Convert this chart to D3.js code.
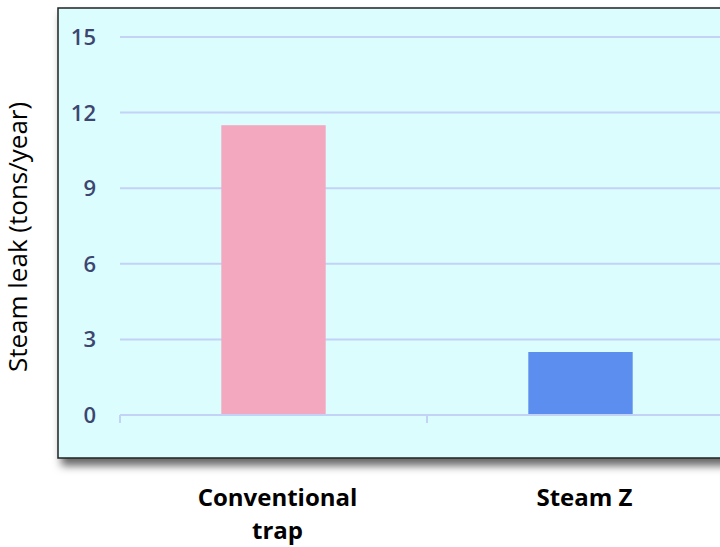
<!DOCTYPE html>
<html>
<head>
<meta charset="utf-8">
<script src="https://cdn.jsdelivr.net/npm/d3@7"></script>
<style>
  body { margin: 0; background: #fff; }
  svg { display: block; }
</style>
</head>
<body>
<div id="container"></div>
<script>
// Data
const categories = ["Conventional trap", "Steam Z"];
const categoryLines = [["Conventional", "trap"], ["Steam Z"]];
const leakValues = [11.5, 2.5];
const barColors = ["#f4a8bf", "#5b8eee"];
const yTicks = [0, 3, 6, 9, 12, 15];

const W = 720, H = 547;
const svg = d3.select("#container").append("svg")
    .attr("width", W)
    .attr("height", H);

// drop shadow for the panel
const defs = svg.append("defs");
const f = defs.append("filter").attr("id", "shadow")
    .attr("x", "-10%").attr("y", "-10%").attr("width", "130%").attr("height", "130%");
f.append("feDropShadow")
    .attr("dx", 4).attr("dy", 7)
    .attr("stdDeviation", 4)
    .attr("flood-color", "#000")
    .attr("flood-opacity", 0.6);

// panel
svg.append("rect")
    .attr("x", 58).attr("y", 8)
    .attr("width", 700).attr("height", 450)
    .attr("fill", "#dcfdfe")
    .attr("stroke", "#222")
    .attr("stroke-width", 1.5)
    .attr("filter", "url(#shadow)");

// scales
const x = d3.scaleBand().domain(categories).range([120, 734]).padding(0);
const y = d3.scaleLinear().domain([0, 15]).range([415, 37]);

// gridlines
svg.append("g").selectAll("line")
    .data(yTicks.filter(d => d > 0))
    .enter().append("line")
    .attr("x1", 120).attr("x2", 734)
    .attr("y1", d => y(d)).attr("y2", d => y(d))
    .attr("stroke", "#c3d2f7")
    .attr("stroke-width", 2);

// y tick labels
svg.append("g").selectAll("text")
    .data(yTicks)
    .enter().append("text")
    .attr("x", 96)
    .attr("y", d => y(d))
    .attr("dy", "0.36em")
    .attr("text-anchor", "end")
    .style("font-family", "'Open Sans', sans-serif")
    .style("font-weight", 600)
    .style("font-size", "22px")
    .style("fill", "#3d4670")
    .text(d => d);

// bars
const barW = x.bandwidth() * 0.34;
svg.append("g").selectAll("rect")
    .data(leakValues)
    .enter().append("rect")
    .attr("x", (d, i) => x(categories[i]) + x.bandwidth() / 2 - barW / 2)
    .attr("y", d => y(d))
    .attr("width", barW)
    .attr("height", d => y(0) - y(d))
    .attr("fill", (d, i) => barColors[i]);

// x axis baseline + ticks on band edges
const gx = svg.append("g")
    .attr("transform", `translate(0,${y(0)})`);
gx.append("line")
    .attr("x1", 120).attr("x2", 734)
    .attr("stroke", "#c3d2f7")
    .attr("stroke-width", 2);
gx.selectAll(".edge")
    .data(categories)
    .enter().append("line")
    .attr("class", "edge")
    .attr("x1", d => x(d)).attr("x2", d => x(d))
    .attr("y1", 0).attr("y2", 8)
    .attr("stroke", "#c3d2f7")
    .attr("stroke-width", 2);

// category labels
const labels = svg.append("g").selectAll("text")
    .data(categories)
    .enter().append("text")
    .attr("x", d => x(d) + x.bandwidth() / 2 + 4)
    .attr("y", 506)
    .attr("text-anchor", "middle")
    .style("font-family", "'Open Sans', sans-serif")
    .style("font-weight", 700)
    .style("font-size", "24px")
    .style("fill", "#000");
labels.selectAll("tspan")
    .data((d, i) => categoryLines[i])
    .enter().append("tspan")
    .attr("x", function () { return d3.select(this.parentNode).attr("x"); })
    .attr("dy", (d, i) => i === 0 ? 0 : 33)
    .text(d => d);

// y axis title
svg.append("text")
    .attr("transform", "translate(27,237) rotate(-90)")
    .attr("text-anchor", "middle")
    .style("font-family", "'Open Sans', sans-serif")
    .style("font-size", "26px")
    .style("fill", "#000")
    .text("Steam leak (tons/year)");
</script>
</body>
</html>
